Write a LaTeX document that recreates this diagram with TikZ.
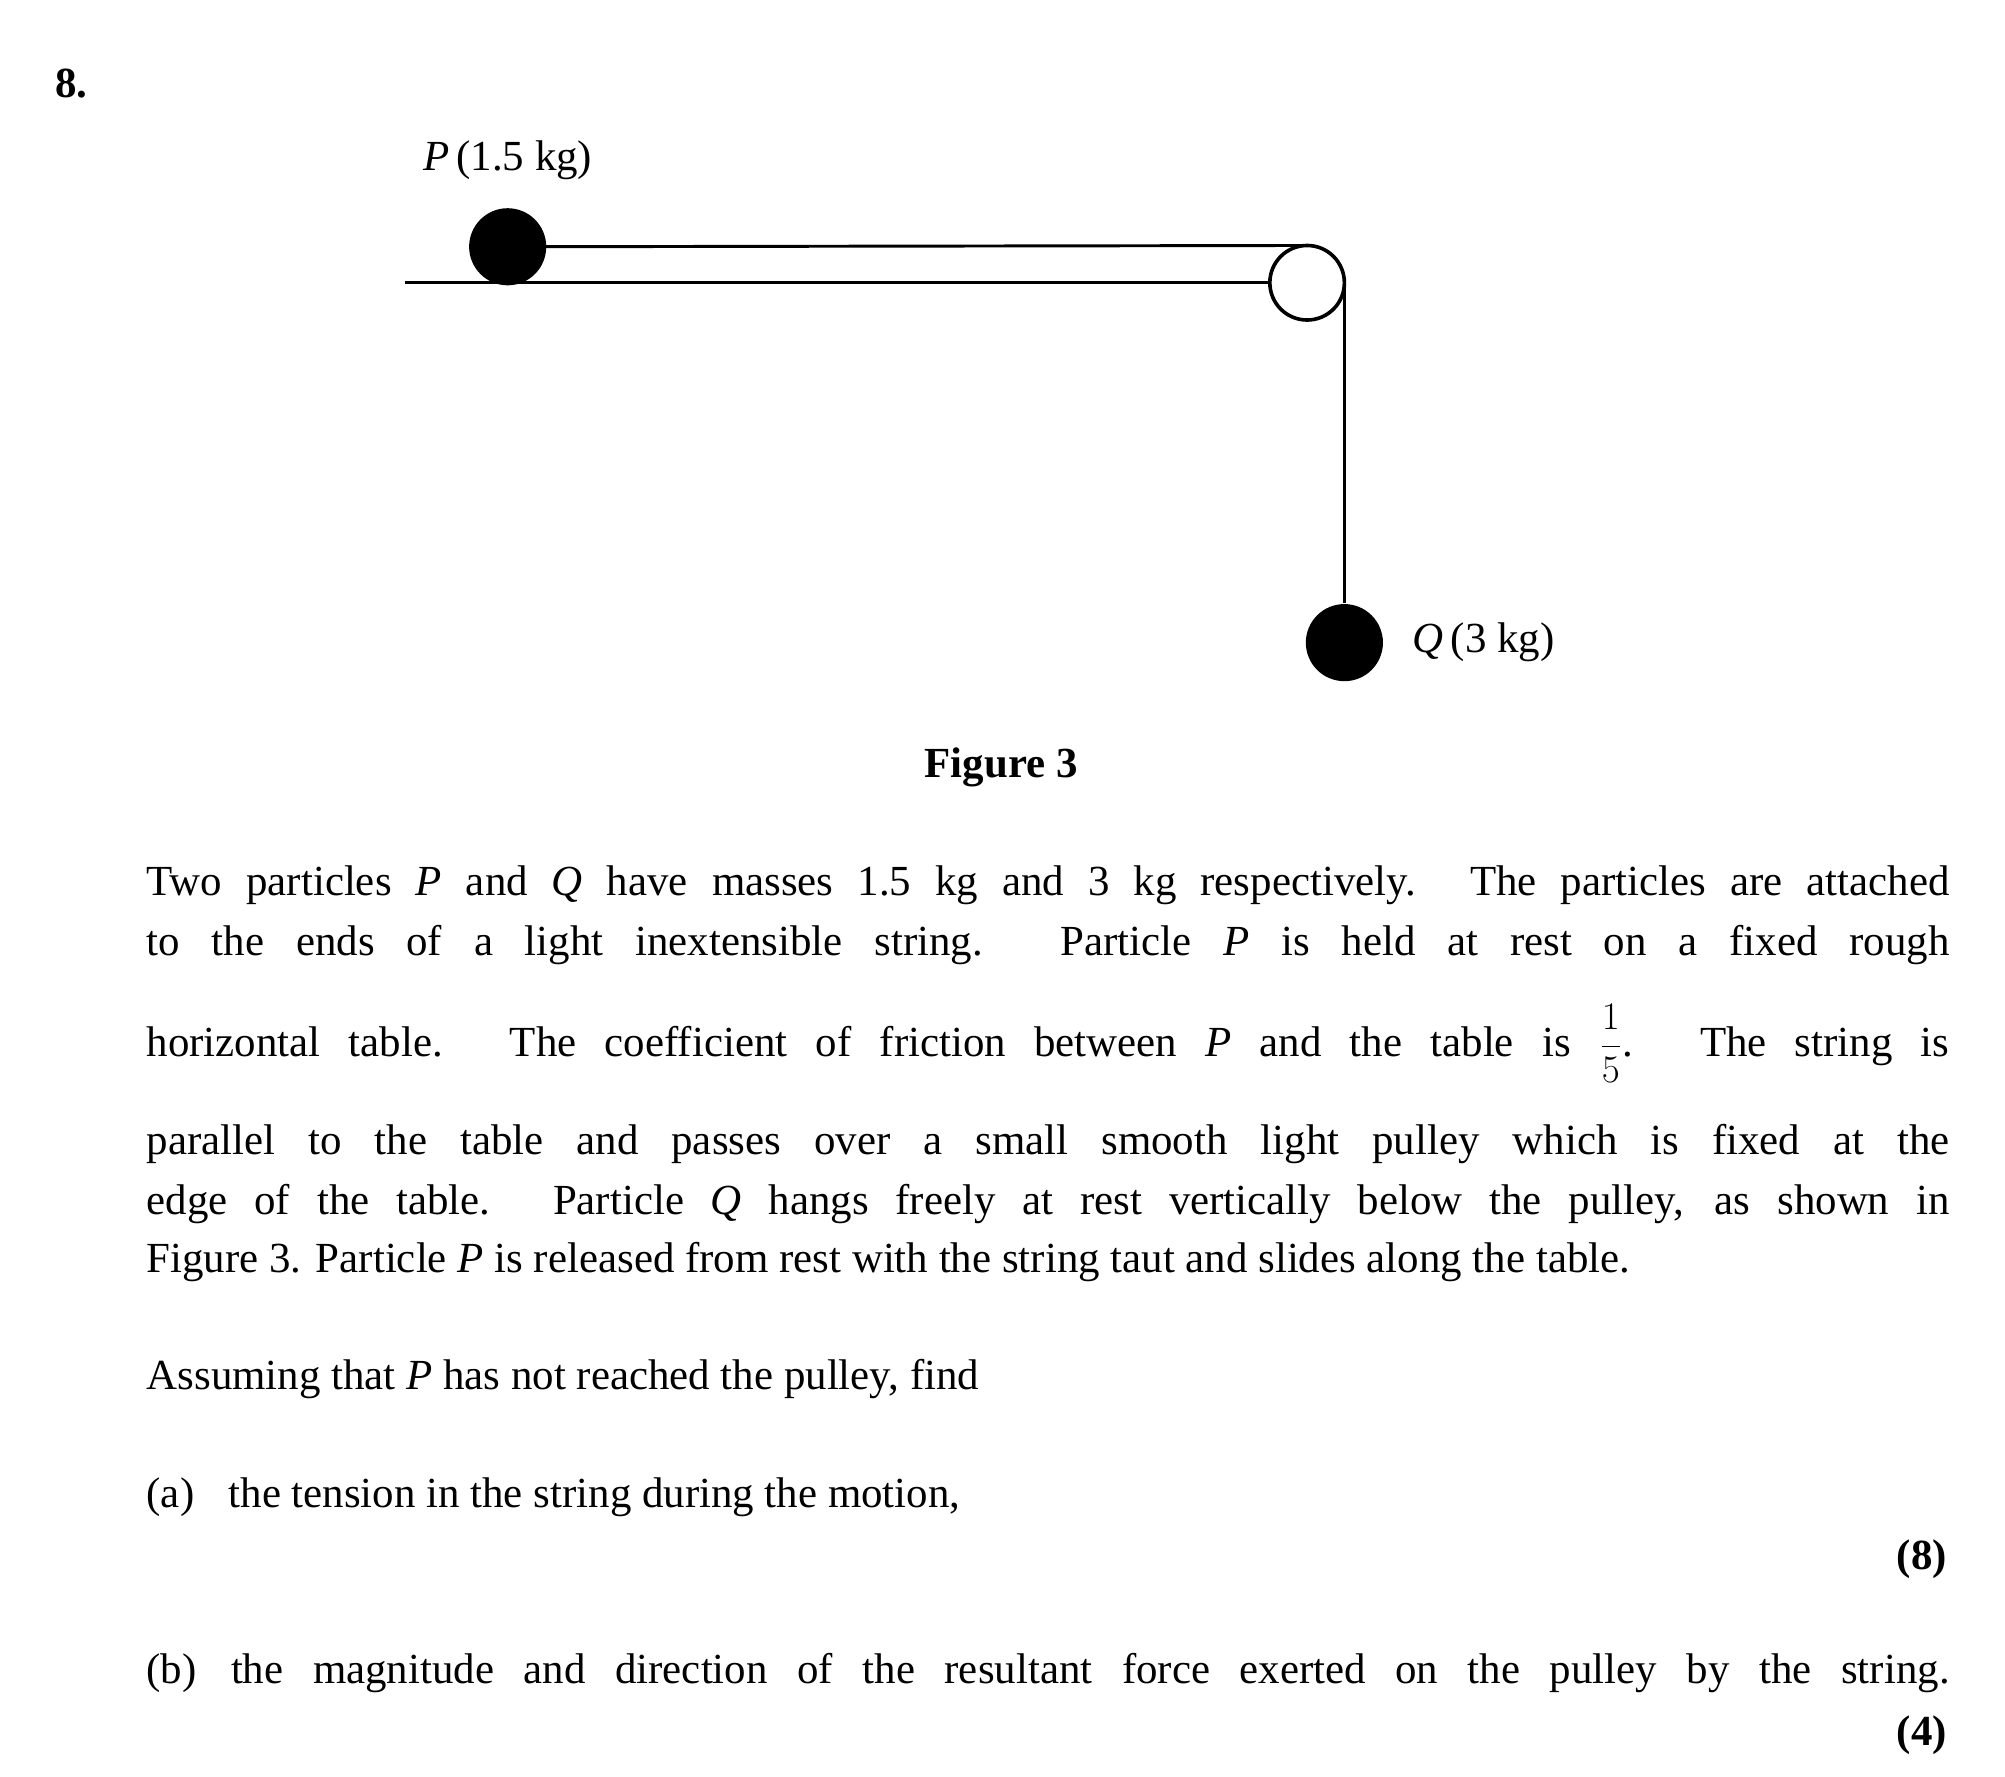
\documentclass[tikz,border=0pt]{standalone}
\usepackage{fontspec}
\setmainfont{Liberation Serif}
\newcommand{\pxu}{*0.02cm}
\tikzset{
  ball/.style={circle, fill=black, minimum size=60\pxu, inner sep=0pt},
  pulley/.style={circle, draw, line width=1.6pt, fill=white, minimum size=58\pxu, inner sep=0pt},
  txt/.style={anchor=west, inner sep=0pt, font=\fontsize{19}{23}\selectfont},
  marks/.style={anchor=east, inner sep=0pt, font=\fontsize{19}{23}\selectfont\bfseries},
}
\newcommand{\jline}[1]{\makebox[28.06cm][s]{#1}}
\begin{document}
\begin{tikzpicture}[x=0.02cm, y=-0.02cm, line width=1.3pt]
\useasboundingbox (0,0) rectangle (1560,1382);

\node[txt, font=\fontsize{19}{23}\selectfont\bfseries] (num) at (42,65) {8.};

% table, string and pulley
\coordinate (tl) at (315,220);
\coordinate (tr) at (995,220);
\draw (tl) -- (tr);
\node[ball] (P) at (395,192) {};
\node[ball] (Q) at (1046,500) {};
\draw (P.center) -- (1017,191);
\draw (1046,220) -- (Q.north);
\node[pulley] (pul) at (1017,220) {};
\node[txt, anchor=center] (Plab) at (395,125) {\textit{P}\,(1.5 kg)};
\node[txt] (Qlab) at (1098,500) {\textit{Q}\,(3 kg)};

\node[txt, anchor=center, font=\fontsize{19}{23}\selectfont\bfseries] (fig) at (779,597) {Figure 3};

% question text
\node[txt] (l1) at (113,689) {\jline{Two particles \textit{P} and \textit{Q} have masses 1.5 kg and 3 kg respectively. The particles are attached}};
\node[txt] (l2) at (113,735) {\jline{to the ends of a light inextensible string. Particle \textit{P} is held at rest on a fixed rough}};
\node[txt] (l3) at (113,812) {\jline{horizontal table. The coefficient of friction between \textit{P} and the table is $\displaystyle\frac{1}{5}$. The string is}};
\node[txt] (l4) at (113,890) {\jline{parallel to the table and passes over a small smooth light pulley which is fixed at the}};
\node[txt] (l5) at (113,937) {\jline{edge of the table. Particle \textit{Q} hangs freely at rest vertically below the pulley, as shown in}};
\node[txt] (l6) at (113,982) {Figure 3. Particle \textit{P} is released from rest with the string taut and slides along the table.};
\node[txt] (l7) at (113,1073) {Assuming that \textit{P} has not reached the pulley, find};
\node[txt] (la) at (113,1165) {(a)\hspace{0.8em}the tension in the string during the motion,};
\node[marks] (ma) at (1516,1213) {(8)};
\node[txt] (lb) at (113,1302) {\jline{(b)\hspace{0.8em}the magnitude and direction of the resultant force exerted on the pulley by the string.}};
\node[marks] (mb) at (1516,1350) {(4)};
\end{tikzpicture}
\end{document}
